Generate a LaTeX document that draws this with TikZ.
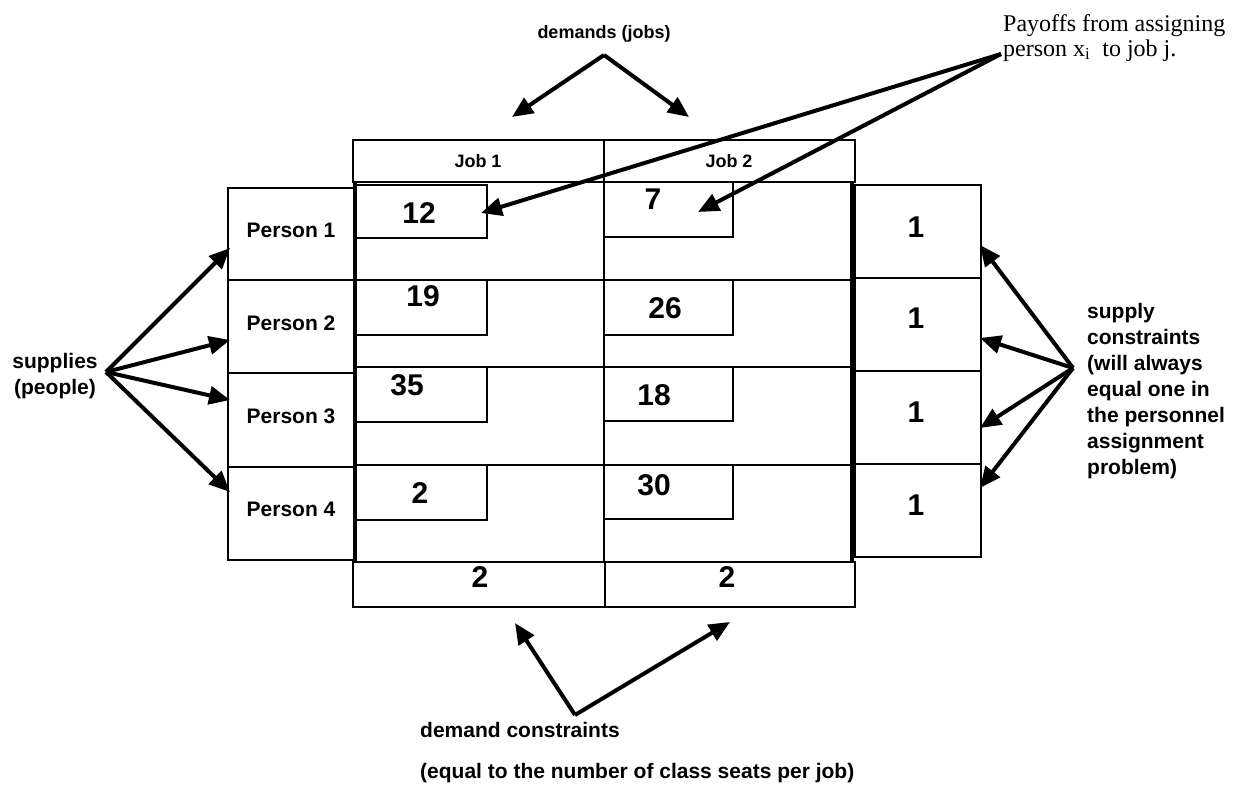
\documentclass[tikz,border=0pt]{standalone}
\usepackage{fontspec}
\setmainfont{Liberation Serif}
\setsansfont{Liberation Sans}
\usetikzlibrary{arrows.meta}
\tikzset{
  gl/.style={draw, line width=2pt},
  tk/.style={draw, line width=4pt},
  arr/.style={line width=4pt, -{Triangle[length=21pt,width=18pt]}},
  lab/.style={font=\sffamily\bfseries\fontsize{21}{26}\selectfont, inner sep=0pt},
  sm/.style={font=\sffamily\bfseries\fontsize{18}{21}\selectfont, inner sep=0pt},
  num/.style={font=\sffamily\bfseries\fontsize{30}{30}\selectfont, inner sep=0pt},
  pay/.style={font=\rmfamily\fontsize{24}{25}\selectfont, inner sep=0pt, align=left, anchor=north west},
}
\begin{document}
\begin{tikzpicture}[x=1pt,y=-1pt]
\useasboundingbox (0,0) rectangle (1241,786);
\fill[white] (0,0) rectangle (1241,786);

% header row
\draw[gl] (353,140) rectangle (855,182);
\draw[gl] (604,140) -- (604,182);
\node[sm] (j1) at (478,161) {Job 1};
\node[sm] (j2) at (729,161) {Job 2};

% person column
\draw[gl] (228,188) rectangle (355,560);
\foreach \y in {280,373,467} \draw[gl] (228,\y) -- (355,\y);
\node[lab] (p1) at (291,230) {Person 1};
\node[lab] (p2) at (291,323) {Person 2};
\node[lab] (p3) at (291,416) {Person 3};
\node[lab] (p4) at (291,509) {Person 4};

% job grid
\foreach \y in {280,367,465} \draw[gl] (355,\y) -- (853,\y);
\draw[gl] (604,182) -- (604,562);
% small payoff boxes
\draw[gl] (355,185) rectangle (487,238);
\draw[gl] (604,182) rectangle (733,237);
\draw[gl] (355,280) rectangle (487,335);
\draw[gl] (604,280) rectangle (733,335);
\draw[gl] (355,367) rectangle (487,422);
\draw[gl] (604,367) rectangle (733,421);
\draw[gl] (355,465) rectangle (487,520);
\draw[gl] (604,465) rectangle (733,519);
\draw[gl] (355,182) rectangle (853,562);
\draw[tk] (355,182) -- (355,562);
\draw[tk] (852,182) -- (852,562);
\node[num] (c11) at (419,213) {12};
\node[num] (c12) at (653,199) {7};
\node[num] (c21) at (423,296) {19};
\node[num] (c22) at (665,308) {26};
\node[num] (c31) at (407,385) {35};
\node[num] (c32) at (654,395) {18};
\node[num] (c41) at (420,493) {2};
\node[num] (c42) at (654,485) {30};

% supply column
\draw[gl] (855,185) rectangle (981,557);
\foreach \y in {278,371,464} \draw[gl] (855,\y) -- (981,\y);
\node[num] (s1) at (916,227) {1};
\node[num] (s2) at (916,318) {1};
\node[num] (s3) at (916,412) {1};
\node[num] (s4) at (916,505) {1};

% demand row
\draw[gl] (353,562) rectangle (855,607);
\draw[gl] (605,562) -- (605,607);
\node[num] (d1) at (480,577) {2};
\node[num] (d2) at (727,577) {2};

% demands (jobs)
\node[sm] (dem) at (604,34) {demands (jobs)};
\coordinate (demA) at (604,55);
\coordinate (demL) at (512,117);
\coordinate (demR) at (689,117);
\draw[arr] (demA) -- (demL);
\draw[arr] (demA) -- (demR);

% payoffs
\node[pay] (pay) at (1003,14) {Payoffs from assigning\\person x\textsubscript{i}\ \ to job j.};
\coordinate (payT) at (1001,54);
\coordinate (t12) at (481,213);
\coordinate (t7) at (698,212);
\draw[arr] (payT) -- (t12);
\draw[arr] (payT) -- (t7);

% supplies
\node[lab, align=center] (sup) at (55,376) {supplies\\(people)};
\coordinate (supO) at (106,372);
\coordinate (sa1) at (230,248);
\coordinate (sa2) at (230,340);
\coordinate (sa3) at (230,400);
\coordinate (sa4) at (230,492);
\foreach \t in {sa1,sa2,sa3,sa4} \draw[arr] (supO) -- (\t);

% supply constraints
\node[lab, align=left, anchor=north west] (sc) at (1087,303) {supply\\constraints\\(will always\\equal one in\\the personnel\\assignment\\problem)};
\coordinate (scO) at (1073,368);
\coordinate (sb1) at (980,245);
\coordinate (sb2) at (980,338);
\coordinate (sb3) at (980,428);
\coordinate (sb4) at (980,488);
\foreach \t in {sb1,sb2,sb3,sb4} \draw[arr] (scO) -- (\t);

% demand constraints
\node[lab, anchor=west] (dc) at (420,730) {demand constraints};
\node[lab, anchor=west] (dc2) at (420,773) {(equal to the number of class seats per job)};
\coordinate (dcA) at (575,715);
\coordinate (dcL) at (515,623);
\coordinate (dcR) at (730,622);
\draw[arr] (dcA) -- (dcL);
\draw[arr] (dcA) -- (dcR);
\end{tikzpicture}
\end{document}
